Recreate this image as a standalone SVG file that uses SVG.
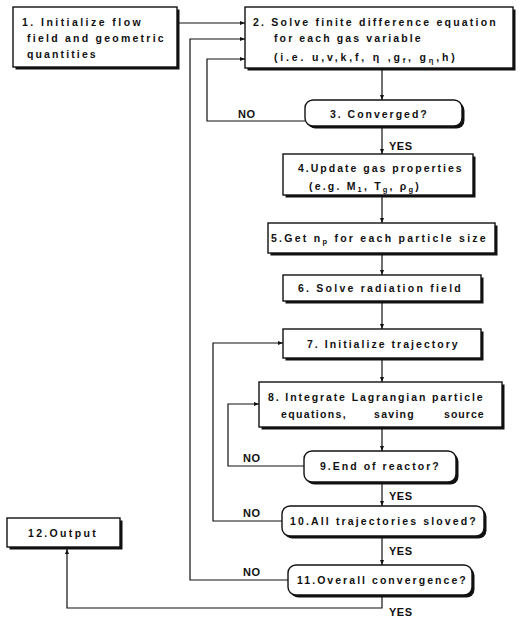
<svg xmlns="http://www.w3.org/2000/svg" width="521" height="618" viewBox="0 0 521 618">
<style>
.sh{fill:#111}
.bx{fill:#fff;stroke:#111;stroke-width:1.4}
.t{font-family:"Liberation Sans",Arial,sans-serif;font-weight:bold;font-size:10.5px;fill:#111;letter-spacing:1.3px}
.l{font-family:"Liberation Sans",Arial,sans-serif;font-weight:bold;font-size:11px;fill:#111;letter-spacing:0.5px}
.c{fill:none;stroke:#111;stroke-width:1.2}
.s{font-size:7.5px;fill:#111}
</style>
<defs>
<marker id="ah" viewBox="0 0 10 10" refX="10" refY="5" markerWidth="5" markerHeight="5" orient="auto" markerUnits="userSpaceOnUse">
<path d="M0,1 L10,5 L0,9 Z" fill="#111"/>
</marker>
</defs>
<rect width="521" height="618" fill="#fff"/>

<g id="n1">
<rect class="sh" x="15.5" y="9.5" width="164" height="60"/>
<rect class="bx" x="13" y="7" width="164" height="60"/>
<text class="t" x="22" y="26" textLength="120">1. Initialize flow</text>
<text class="t" x="27" y="42" textLength="138">field and geometric</text>
<text class="t" x="27" y="58" textLength="70">quantities</text>
</g>

<g id="n2">
<rect class="sh" x="247.5" y="9.5" width="268" height="61"/>
<rect class="bx" x="245" y="7" width="268" height="61"/>
<text class="t" x="253" y="26" textLength="244">2. Solve finite difference equation</text>
<text class="t" x="274" y="42" textLength="148">for each gas variable</text>
<text class="t" x="274" y="61" textLength="182">(i.e. u,v,k,f, η ,g<tspan class="s" dy="2">f</tspan><tspan dy="-2">, g</tspan><tspan class="s" dy="2">η</tspan><tspan dy="-2">,h)</tspan></text>
</g>

<g id="n3">
<rect class="sh" x="307.5" y="102.5" width="157" height="26" rx="8"/>
<rect class="bx" x="305" y="100" width="157" height="26" rx="8"/>
<text class="t" x="330" y="118" textLength="98">3. Converged?</text>
</g>

<g id="n4">
<rect class="sh" x="285.5" y="156.5" width="190" height="41"/>
<rect class="bx" x="283" y="154" width="190" height="41"/>
<text class="t" x="298" y="172" textLength="165">4.Update gas properties</text>
<text class="t" x="309" y="190" textLength="111">(e.g. M<tspan class="s" dy="2">1</tspan><tspan dy="-2">, T</tspan><tspan class="s" dy="2">g</tspan><tspan dy="-2">,  ρ</tspan><tspan class="s" dy="2">g</tspan><tspan dy="-2">)</tspan></text>
</g>

<g id="n5">
<rect class="sh" x="270.5" y="225.5" width="227" height="30"/>
<rect class="bx" x="268" y="223" width="227" height="30"/>
<text class="t" x="271" y="242" textLength="216">5.Get n<tspan class="s" dy="2">p</tspan><tspan dy="-2"> for each particle size</tspan></text>
</g>

<g id="n6">
<rect class="sh" x="285.5" y="277.5" width="198" height="26"/>
<rect class="bx" x="283" y="275" width="198" height="26"/>
<text class="t" x="298" y="292" textLength="164">6. Solve radiation field</text>
</g>

<g id="n7">
<rect class="sh" x="285.5" y="331.5" width="198" height="29"/>
<rect class="bx" x="283" y="329" width="198" height="29"/>
<text class="t" x="307" y="348" textLength="152">7. Initialize trajectory</text>
</g>

<g id="n8">
<rect class="sh" x="261.5" y="384.5" width="243" height="45"/>
<rect class="bx" x="259" y="382" width="243" height="45"/>
<text class="t" x="268" y="401" textLength="216">8. Integrate Lagrangian particle</text>
<text class="t" x="281" y="418" textLength="66">equations,</text>
<text class="t" x="374" y="418" textLength="41">saving</text>
<text class="t" x="444" y="418" textLength="41">source</text>
</g>

<g id="n9">
<rect class="sh" x="306.5" y="453.5" width="152" height="31" rx="8"/>
<rect class="bx" x="304" y="451" width="152" height="31" rx="8"/>
<text class="t" x="320" y="470" textLength="120">9.End of reactor?</text>
</g>

<g id="n10">
<rect class="sh" x="284.5" y="508.5" width="202" height="30" rx="8"/>
<rect class="bx" x="282" y="506" width="202" height="30" rx="8"/>
<text class="t" x="290" y="525" textLength="187">10.All trajectories sloved?</text>
</g>

<g id="n11">
<rect class="sh" x="290.5" y="567.5" width="184" height="30" rx="8"/>
<rect class="bx" x="288" y="565" width="184" height="30" rx="8"/>
<text class="t" x="297" y="584" textLength="170">11.Overall convergence?</text>
</g>

<g id="n12">
<rect class="sh" x="9.5" y="520.5" width="113" height="29"/>
<rect class="bx" x="7" y="518" width="113" height="29"/>
<text class="t" x="28" y="537" textLength="69">12.Output</text>
</g>

<g id="connectors">
<path class="c" d="M177,23 H245" marker-end="url(#ah)"/>
<path class="c" d="M382,68 V100" marker-end="url(#ah)"/>
<path class="c" d="M382,126 V154" marker-end="url(#ah)"/>
<path class="c" d="M382,195 V223" marker-end="url(#ah)"/>
<path class="c" d="M382,253 V275" marker-end="url(#ah)"/>
<path class="c" d="M382,301 V329" marker-end="url(#ah)"/>
<path class="c" d="M382,358 V382" marker-end="url(#ah)"/>
<path class="c" d="M382,427 V451" marker-end="url(#ah)"/>
<path class="c" d="M382,482 V506" marker-end="url(#ah)"/>
<path class="c" d="M382,536 V565" marker-end="url(#ah)"/>
<path class="c" d="M382,595 V608 H67 V549" marker-end="url(#ah)"/>
<path class="c" d="M305,121 H207 V59 H245" marker-end="url(#ah)"/>
<path class="c" d="M304,466 H228 V404 H259" marker-end="url(#ah)"/>
<path class="c" d="M282,521 H213 V343 H283" marker-end="url(#ah)"/>
<path class="c" d="M288,580 H190 V39 H245" marker-end="url(#ah)"/>
<text class="l" x="238" y="118">NO</text>
<text class="l" x="243" y="462">NO</text>
<text class="l" x="243" y="517">NO</text>
<text class="l" x="243" y="576">NO</text>
<text class="l" x="389" y="150">YES</text>
<text class="l" x="389" y="500">YES</text>
<text class="l" x="389" y="555">YES</text>
<text class="l" x="389" y="616">YES</text>
</g>
</svg>
